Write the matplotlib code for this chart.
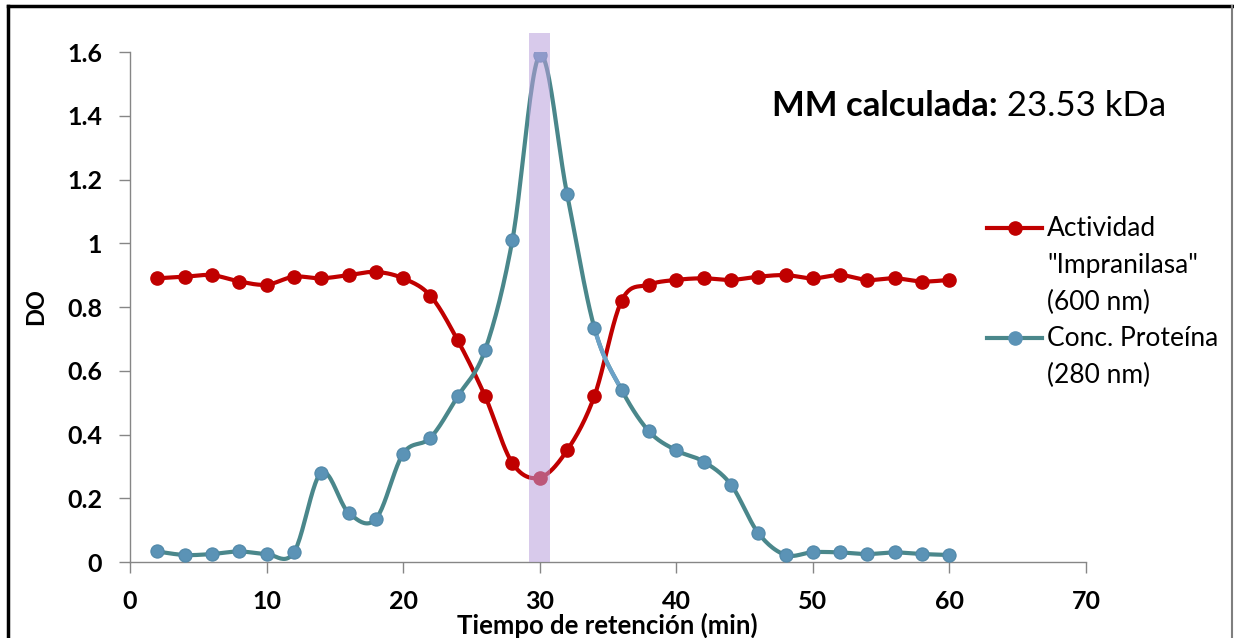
import numpy as np
import matplotlib
matplotlib.use('Agg')
import matplotlib.pyplot as plt
from matplotlib.patches import Rectangle
from matplotlib.lines import Line2D
from matplotlib.ticker import FuncFormatter

plt.rcParams['font.family'] = ['Lato', 'DejaVu Sans']

# tiempo de retencion (min)
tiempo = [2, 4, 6, 8, 10, 12, 14, 16, 18, 20, 22, 24, 26, 28, 30,
          32, 34, 36, 38, 40, 42, 44, 46, 48, 50, 52, 54, 56, 58, 60]
# actividad "Impranilasa" (600 nm)
actividad = [0.89, 0.895, 0.90, 0.88, 0.87, 0.895, 0.89, 0.90, 0.91, 0.89,
             0.835, 0.695, 0.52, 0.31, 0.265, 0.35, 0.52, 0.82, 0.87, 0.885,
             0.89, 0.885, 0.895, 0.90, 0.89, 0.90, 0.885, 0.89, 0.88, 0.885]
# conc. proteina (280 nm)
proteina = [0.033, 0.022, 0.025, 0.033, 0.025, 0.03, 0.28, 0.155, 0.135, 0.34,
            0.39, 0.52, 0.665, 1.01, 1.59, 1.155, 0.735, 0.54, 0.41, 0.35,
            0.315, 0.243, 0.091, 0.022, 0.031, 0.03, 0.025, 0.03, 0.025, 0.022]

leyenda_act = ['Actividad', '"Impranilasa"', '(600 nm)']
leyenda_prot = ['Conc. Proteína', '(280 nm)']

RED = '#C00000'
TEAL = '#4A878B'
TEAL_MK = '#5B93B6'
GRID = '#868686'


def smooth(x, y, n=24):
    # curva suavizada tipo Excel (bezier / catmull-rom)
    P = np.column_stack([x, y]).astype(float)
    P = np.vstack([P[0], P, P[-1]])
    t = np.linspace(0, 1, n)[:, None]
    out = []
    for i in range(1, len(P) - 2):
        p0, p3 = P[i], P[i + 1]
        c1 = p0 + (P[i + 1] - P[i - 1]) / 6.0
        c2 = p3 - (P[i + 2] - P[i]) / 6.0
        seg = ((1 - t) ** 3) * p0 + 3 * ((1 - t) ** 2) * t * c1 + 3 * (1 - t) * t ** 2 * c2 + t ** 3 * p3
        out.append(seg if i == 1 else seg[1:])
    out = np.vstack(out)
    return out[:, 0], out[:, 1]


W, H = 1234, 638
fig = plt.figure(figsize=(W / 100, H / 100), dpi=100)
ax = fig.add_axes([130 / W, 1 - 562 / H, (1086 - 130) / W, (562 - 52) / H])

sx, sy = smooth(tiempo, actividad)
ax.plot(sx, sy, color=RED, lw=3.0, solid_capstyle='round', zorder=3)
ax.plot(tiempo, actividad, 'o', color=RED, ms=9.5, zorder=3)

sx, sy = smooth(tiempo, proteina)
ax.plot(sx, sy, color=TEAL, lw=3.0, solid_capstyle='round', zorder=4)
# tramo 34-36 min dibujado en azul claro en el original
i0 = tiempo.index(34)
n = 24
a, b = i0 * (n - 1), (i0 + 1) * (n - 1) + 1
ax.plot(sx[a:b], sy[a:b], color='#6CA2C8', lw=3.0, zorder=4)
ax.plot(tiempo, proteina, 'o', color=TEAL_MK, mec='#5088A8', mew=0.8, ms=9.5, zorder=5)

# banda de elucion
ax.add_patch(Rectangle((29.25, 0), 1.5, 1.66, facecolor='#B9A0DC', alpha=0.55,
                       edgecolor='none', clip_on=False, zorder=6))

ax.set_xlim(0, 70)
ax.set_ylim(0, 1.6)
ax.set_xticks(range(0, 71, 10))
ax.set_yticks(np.arange(0, 1.61, 0.2))
ax.yaxis.set_major_formatter(FuncFormatter(lambda v, p: '%g' % round(v, 1)))
for s in ['top', 'right']:
    ax.spines[s].set_visible(False)
for s in ['left', 'bottom']:
    ax.spines[s].set_color(GRID)
    ax.spines[s].set_linewidth(1.0)
ax.tick_params(axis='both', direction='out', length=8, width=1, color=GRID,
               labelsize=18)
ax.tick_params(axis='x', pad=12)
ax.tick_params(axis='y', pad=12)
for lab in ax.get_xticklabels() + ax.get_yticklabels():
    lab.set_fontweight('bold')

fig.text(607 / W, 1 - 625 / H, 'Tiempo de retención (min)', ha='center', va='center',
         fontsize=18.5, fontweight='bold')
fig.text(36 / W, 1 - 307 / H, 'DO', rotation=90, ha='center', va='center',
         fontsize=17, fontweight='bold')

t1 = fig.text(772 / W, 1 - 106 / H, 'MM calculada:', ha='left', va='center',
              fontsize=25, fontweight='bold')
ax.annotate(' 23.53 kDa', xy=(1, 0), xycoords=t1, ha='left', va='bottom',
            fontsize=25, annotation_clip=False)

# leyenda
for lines, y0, lc, mc in [(leyenda_act, 228, RED, RED), (leyenda_prot, 338, TEAL, TEAL_MK)]:
    fig.add_artist(Line2D([987 / W, 1042 / W], [1 - y0 / H, 1 - y0 / H], color=lc, lw=3.0))
    fig.add_artist(Line2D([1014.5 / W], [1 - y0 / H], marker='o', color=mc, ms=9.5))
    for k, txt in enumerate(lines):
        fig.text(1047 / W, 1 - (y0 + 37 * k) / H, txt, ha='left', va='center', fontsize=19)

# marco
fig.add_artist(Line2D([8 / W, 8 / W], [0, 1 - 6 / H], color='black', lw=2.5))
fig.add_artist(Line2D([8 / W, 1232 / W], [1 - 6 / H, 1 - 6 / H], color='black', lw=2.5))
fig.add_artist(Line2D([1232 / W, 1232 / W], [0, 1 - 6 / H], color='#7F7F7F', lw=1.5))

fig.savefig('out.png', dpi=100)
